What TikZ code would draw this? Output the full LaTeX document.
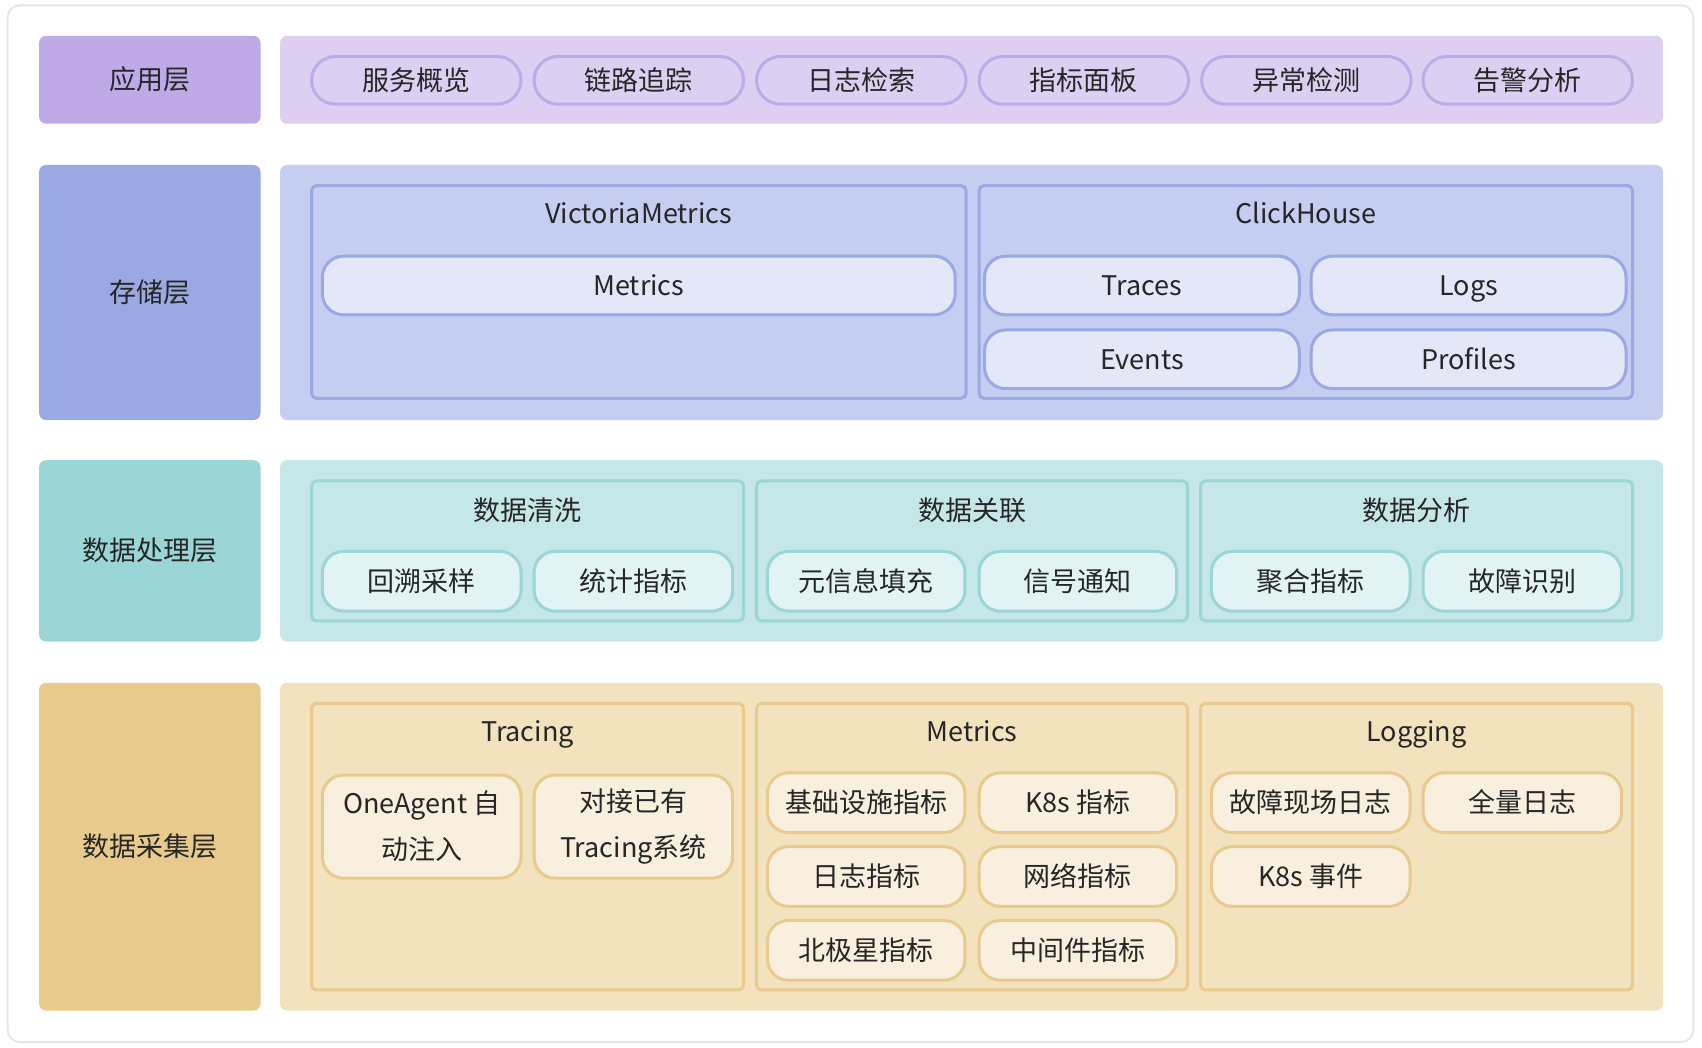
\documentclass[tikz,border=0pt]{standalone}
\usepackage{fontspec}
\setmainfont{Noto Sans CJK SC}
\definecolor{txt}{HTML}{262626}
\definecolor{frame}{HTML}{E6E6E6}
\definecolor{appDark}{HTML}{BFAAE8}
\definecolor{appLight}{HTML}{DCCFF2}
\definecolor{stoDark}{HTML}{9AA8E4}
\definecolor{stoLight}{HTML}{C5CDF0}
\definecolor{stoPill}{HTML}{E3E7F8}
\definecolor{proDark}{HTML}{9BD6D6}
\definecolor{proLight}{HTML}{C5E7E7}
\definecolor{proPill}{HTML}{E2F3F3}
\definecolor{colDark}{HTML}{E8CB8C}
\definecolor{colLight}{HTML}{F2E2BE}
\definecolor{colPill}{HTML}{F8EFDE}
\newcommand\mybox[7]{\node[#1, minimum width={(#4-#2)*1.0855pt}, minimum height={(#5-#3)*1.0855pt}] (#6) at ({(#2+#4)/2},{(#3+#5)/2}) {#7};}
\tikzset{
  base/.style={inner sep=0pt, outer sep=0pt, text=txt, font=\fontsize{27}{46}\selectfont, align=center, text height=23.5pt, text depth=3.6pt},
  twoline/.style={text height=, text depth=},
  labelbox/.style={base, rounded corners=7pt},
  panel/.style={base, rounded corners=7pt},
  group/.style={base, rounded corners=5pt, line width=3pt},
  pill/.style={base, rounded corners=21pt, line width=3pt},
  apppill/.style={base, rounded corners=24pt, line width=3pt, draw=appDark, fill=appLight},
  title/.style={base},
}
\begin{document}
\begin{tikzpicture}[x=1.0855pt,y=-1.0855pt]
\useasboundingbox (0,0) rectangle (1568,965);
\node[draw=frame, line width=2pt, fill=white, rounded corners=12pt, inner sep=0pt, minimum width={1553*1.0855pt}, minimum height={955*1.0855pt}] (frm) at (783.5,482.5) {};
% ---------- row 1
\mybox{labelbox, fill=appDark}{36}{33}{240}{114}{lapp}{应用层}
\mybox{panel, fill=appLight}{258}{33}{1532}{114}{papp}{}
\mybox{apppill}{287}{52}{480}{96}{a1}{服务概览}
\mybox{apppill}{492}{52}{685}{96}{a2}{链路追踪}
\mybox{apppill}{697}{52}{890}{96}{a3}{日志检索}
\mybox{apppill}{902}{52}{1095}{96}{a4}{指标面板}
\mybox{apppill}{1107}{52}{1300}{96}{a5}{异常检测}
\mybox{apppill}{1311}{52}{1504}{96}{a6}{告警分析}
% ---------- row 2
\mybox{labelbox, fill=stoDark}{36}{152}{240}{387}{lsto}{存储层}
\mybox{panel, fill=stoLight}{258}{152}{1532}{387}{psto}{}
\mybox{group, draw=stoDark, fill=stoLight}{287}{171}{890}{367}{gvm}{}
\node[title] (tvm) at (588.5,197) {VictoriaMetrics};
\mybox{pill, draw=stoDark, fill=stoPill}{297}{236}{880}{290}{s1}{Metrics}
\mybox{group, draw=stoDark, fill=stoLight}{902}{171}{1504}{367}{gch}{}
\node[title] (tch) at (1203,197) {ClickHouse};
\mybox{pill, draw=stoDark, fill=stoPill}{907}{236}{1197}{290}{s2}{Traces}
\mybox{pill, draw=stoDark, fill=stoPill}{1208}{236}{1498}{290}{s3}{Logs}
\mybox{pill, draw=stoDark, fill=stoPill}{907}{304}{1197}{358}{s4}{Events}
\mybox{pill, draw=stoDark, fill=stoPill}{1208}{304}{1498}{358}{s5}{Profiles}
% ---------- row 3
\mybox{labelbox, fill=proDark}{36}{424}{240}{591}{lpro}{数据处理层}
\mybox{panel, fill=proLight}{258}{424}{1532}{591}{ppro}{}
\mybox{group, draw=proDark, fill=proLight}{287}{443}{685}{572}{gp1}{}
\mybox{group, draw=proDark, fill=proLight}{697}{443}{1094}{572}{gp2}{}
\mybox{group, draw=proDark, fill=proLight}{1106}{443}{1504}{572}{gp3}{}
\node[title] (tp1) at (486,470) {数据清洗};
\node[title] (tp2) at (895.5,470) {数据关联};
\node[title] (tp3) at (1305,470) {数据分析};
\mybox{pill, draw=proDark, fill=proPill}{297}{508}{480}{563}{q1}{回溯采样}
\mybox{pill, draw=proDark, fill=proPill}{492}{508}{675}{563}{q2}{统计指标}
\mybox{pill, draw=proDark, fill=proPill}{707}{508}{889}{563}{q3}{元信息填充}
\mybox{pill, draw=proDark, fill=proPill}{902}{508}{1084}{563}{q4}{信号通知}
\mybox{pill, draw=proDark, fill=proPill}{1116}{508}{1299}{563}{q5}{聚合指标}
\mybox{pill, draw=proDark, fill=proPill}{1311}{508}{1494}{563}{q6}{故障识别}
% ---------- row 4
\mybox{labelbox, fill=colDark}{36}{629}{240}{931}{lcol}{数据采集层}
\mybox{panel, fill=colLight}{258}{629}{1532}{931}{pcol}{}
\mybox{group, draw=colDark, fill=colLight}{287}{648}{685}{912}{gc1}{}
\mybox{group, draw=colDark, fill=colLight}{697}{648}{1094}{912}{gc2}{}
\mybox{group, draw=colDark, fill=colLight}{1106}{648}{1504}{912}{gc3}{}
\node[title] (tc1) at (486,674) {Tracing};
\node[title] (tc2) at (895.5,674) {Metrics};
\node[title] (tc3) at (1305,674) {Logging};
\mybox{pill, twoline, draw=colDark, fill=colPill}{297}{714}{480}{809}{c1}{OneAgent 自\\动注入}
\mybox{pill, twoline, draw=colDark, fill=colPill}{492}{714}{675}{809}{c2}{对接已有\\Tracing系统}
\mybox{pill, draw=colDark, fill=colPill}{707}{712}{889}{767}{m1}{基础设施指标}
\mybox{pill, draw=colDark, fill=colPill}{902}{712}{1084}{767}{m2}{K8s 指标}
\mybox{pill, draw=colDark, fill=colPill}{707}{780}{889}{835}{m3}{日志指标}
\mybox{pill, draw=colDark, fill=colPill}{902}{780}{1084}{835}{m4}{网络指标}
\mybox{pill, draw=colDark, fill=colPill}{707}{848}{889}{903}{m5}{北极星指标}
\mybox{pill, draw=colDark, fill=colPill}{902}{848}{1084}{903}{m6}{中间件指标}
\mybox{pill, draw=colDark, fill=colPill}{1116}{712}{1299}{767}{l1}{故障现场日志}
\mybox{pill, draw=colDark, fill=colPill}{1311}{712}{1494}{767}{l2}{全量日志}
\mybox{pill, draw=colDark, fill=colPill}{1116}{780}{1299}{835}{l3}{K8s 事件}
\end{tikzpicture}
\end{document}
